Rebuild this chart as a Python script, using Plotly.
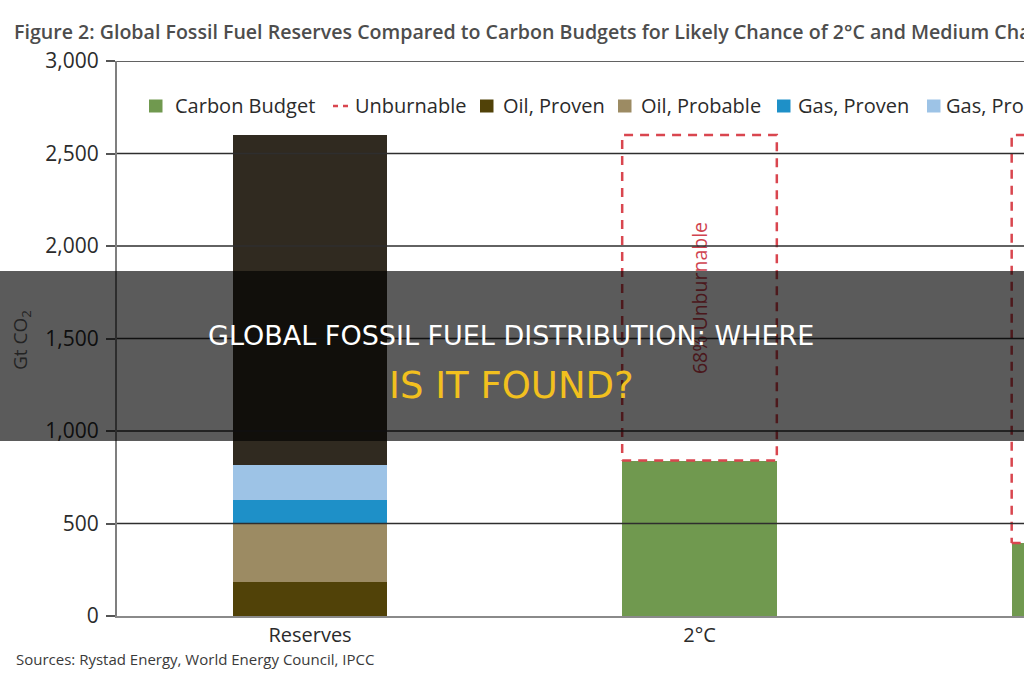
import plotly.graph_objects as go

# ---------------- data ----------------
categories = ["Reserves", "2°C", "1.5°C"]
x_pos = [0, 1, 2]
oil_proven = [185, None, None]
oil_probable = [310, None, None]
gas_proven = [130, None, None]
gas_probable = [190, None, None]
coal = [1785, None, None]
carbon_budget = [None, 840, 395]
y_ticks = [0, 500, 1000, 1500, 2000, 2500, 3000]
y_tick_labels = ["0", "500", "1,000", "1,500", "2,000", "2,500", "3,000"]

# ---------------- styles ----------------
FONT = "Open Sans"
BAR_W = 0.397
C_BUDGET = "#70994f"
C_UNBURN = "#d9464f"
C_OIL_PROVEN = "#514208"
C_OIL_PROB = "#9c8b63"
C_GAS_PROVEN = "#1e90c8"
C_GAS_PROB = "#9dc3e6"
C_COAL = "#302a20"

W, H = 1024, 680
ML, MR, MT, MB = 117, 0, 61, 64
PW, PH = W - ML - MR, H - MT - MB


def px_x(p):  # pixel -> paper x
    return (p - ML) / PW


def px_y(p):  # pixel -> paper y
    return (H - MB - p) / PH


reserves_total = sum(v[0] for v in [oil_proven, oil_probable, gas_proven, gas_probable, coal])
budget_x = [i for i, b in zip(x_pos, carbon_budget) if b is not None]
budget_v = [b for b in carbon_budget if b is not None]
unburnable = [reserves_total - b for b in budget_v]
unburn_text = [f"{round(100 * u / reserves_total)}% Unburnable" for u in unburnable]

fig = go.Figure()

stack = [
    ("Oil, Proven", oil_proven, C_OIL_PROVEN),
    ("Oil, Probable", oil_probable, C_OIL_PROB),
    ("Gas, Proven", gas_proven, C_GAS_PROVEN),
    ("Gas, Probable", gas_probable, C_GAS_PROB),
    ("Coal", coal, C_COAL),
]
for name, vals, col in stack:
    fig.add_trace(go.Bar(x=x_pos, y=vals, name=name, width=BAR_W,
                         marker=dict(color=col, line=dict(width=0)),
                         showlegend=False, hoverinfo="skip"))

fig.add_trace(go.Bar(x=budget_x, y=budget_v, name="Carbon Budget", width=BAR_W,
                     marker=dict(color=C_BUDGET, line=dict(width=0)),
                     showlegend=False, hoverinfo="skip"))

# invisible bar carrying the rotated "xx% Unburnable" label (stacks on budget)
fig.add_trace(go.Bar(x=budget_x, y=unburnable, width=BAR_W, showlegend=False, name="Unburnable share",
                     marker=dict(color="rgba(0,0,0,0)", line=dict(width=0)),
                     text=unburn_text, textposition="inside", insidetextanchor="middle",
                     textangle=-90, constraintext="none",
                     insidetextfont=dict(family=FONT, size=19.5, color="#d04350"),
                     hoverinfo="skip"))

# dashed "Unburnable" outlines
bx, by = [], []
for i, b in zip(budget_x, budget_v):
    l, r = i - BAR_W / 2, i + BAR_W / 2
    bx += [l, r, r, l, l, None]
    by += [b, b, reserves_total, reserves_total, b, None]
fig.add_trace(go.Scatter(x=bx, y=by, mode="lines", name="Unburnable",
                         line=dict(color=C_UNBURN, width=2.5, dash="9px,7px"),
                         showlegend=False, hoverinfo="skip"))

shapes = []
for v in y_ticks[1:]:
    shapes.append(dict(type="line", xref="paper", x0=0, x1=1, yref="y", y0=v, y1=v,
                       line=dict(color="#2e2e2e", width=1.5), layer="above"))

annotations = []

# ---- legend (drawn manually so the row can run off the right edge like the reference) ----
legend_labels = ["Carbon Budget", "Unburnable", "Oil, Proven", "Oil, Probable", "Gas, Proven", "Gas, Probable"]
legend_colors = [C_BUDGET, C_UNBURN, C_OIL_PROVEN, C_OIL_PROB, C_GAS_PROVEN, C_GAS_PROB]
legend_kinds = ["box", "dash", "box", "box", "box", "box"]
legend_sym_x = [149, 333, 480, 618, 777, 927]
legend_txt_x = [173, 353, 501, 639, 796, 944]
LEG_Y = 106
for lab, col, kind, sx, tx in zip(legend_labels, legend_colors, legend_kinds, legend_sym_x, legend_txt_x):
    if kind == "box":
        shapes.append(dict(type="rect", xref="paper", yref="paper",
                           x0=px_x(sx), x1=px_x(sx + 13.5), y0=px_y(LEG_Y + 6.5), y1=px_y(LEG_Y - 6.5),
                           fillcolor=col, line=dict(width=0), layer="above"))
    else:
        shapes.append(dict(type="line", xref="paper", yref="paper",
                           x0=px_x(sx), x1=px_x(sx + 15), y0=px_y(LEG_Y), y1=px_y(LEG_Y),
                           line=dict(color=col, width=2.5, dash="5px,5px"), layer="above"))
    annotations.append(dict(text=lab, xref="paper", yref="paper", x=px_x(tx), y=px_y(LEG_Y),
                            xanchor="left", yanchor="middle", showarrow=False,
                            font=dict(family=FONT, size=20, color="#2b2b2b")))

# dark overlay banner
shapes.append(dict(type="rect", xref="paper", yref="paper",
                   x0=px_x(-5), x1=px_x(W + 5), y0=px_y(441), y1=px_y(271),
                   fillcolor="rgba(0,0,0,0.645)", line=dict(width=0), layer="above"))

annotations += [
    dict(text="Gt CO<sub>2</sub>", xref="paper", yref="paper", x=px_x(21), y=px_y(340),
         xanchor="center", yanchor="middle", textangle=-90, showarrow=False,
         font=dict(family=FONT, size=19, color="#232323")),
    dict(text="Sources: Rystad Energy, World Energy Council, IPCC", xref="paper", yref="paper",
         x=px_x(14), y=px_y(659), xanchor="left", yanchor="middle", showarrow=False,
         font=dict(family=FONT, size=15, color="#3a3a3a")),
    dict(text="GLOBAL FOSSIL FUEL DISTRIBUTION: WHERE", xref="paper", yref="paper",
         x=px_x(511), y=px_y(335), xanchor="center", yanchor="middle", showarrow=False,
         font=dict(family="DejaVu Sans", size=27, color="#ffffff")),
    dict(text="IS IT FOUND?", xref="paper", yref="paper",
         x=px_x(511), y=px_y(385), xanchor="center", yanchor="middle", showarrow=False,
         font=dict(family="DejaVu Sans", size=37, color="#f2c01e")),
]

fig.update_layout(
    width=W, height=H, autosize=False,
    margin=dict(l=ML, r=MR, t=MT, b=MB, pad=0),
    paper_bgcolor="white", plot_bgcolor="white",
    barmode="stack", bargap=0,
    title=dict(text="Figure 2: Global Fossil Fuel Reserves Compared to Carbon Budgets for Likely Chance of 2°C and Medium Chance of 1.5°C",
               x=14 / W, xanchor="left", xref="container",
               y=1 - 32 / H, yanchor="middle", yref="container",
               font=dict(family=FONT, size=19.6, color="#4d4d4d", weight=600)),
    font=dict(family=FONT, color="#2b2b2b"),
    showlegend=False,
    xaxis=dict(range=[(ML - 310) / 389.5, (W - 310) / 389.5],
               tickvals=x_pos, ticktext=categories, ticks="",
               showgrid=False, zeroline=False, showline=True,
               linecolor="#8a8a8a", linewidth=2,
               tickfont=dict(family=FONT, size=20, color="#2b2b2b")),
    yaxis=dict(range=[0, 3000], tickvals=y_ticks, ticktext=y_tick_labels,
               ticks="outside", ticklen=9, tickwidth=1.5, tickcolor="#555555",
               showgrid=False, zeroline=False, showline=True,
               linecolor="#7f7f7f", linewidth=2, ticklabelstandoff=3,
               tickfont=dict(family=FONT, size=21, color="#2b2b2b")),
    shapes=shapes, annotations=annotations,
)

fig.write_html("out.html")
